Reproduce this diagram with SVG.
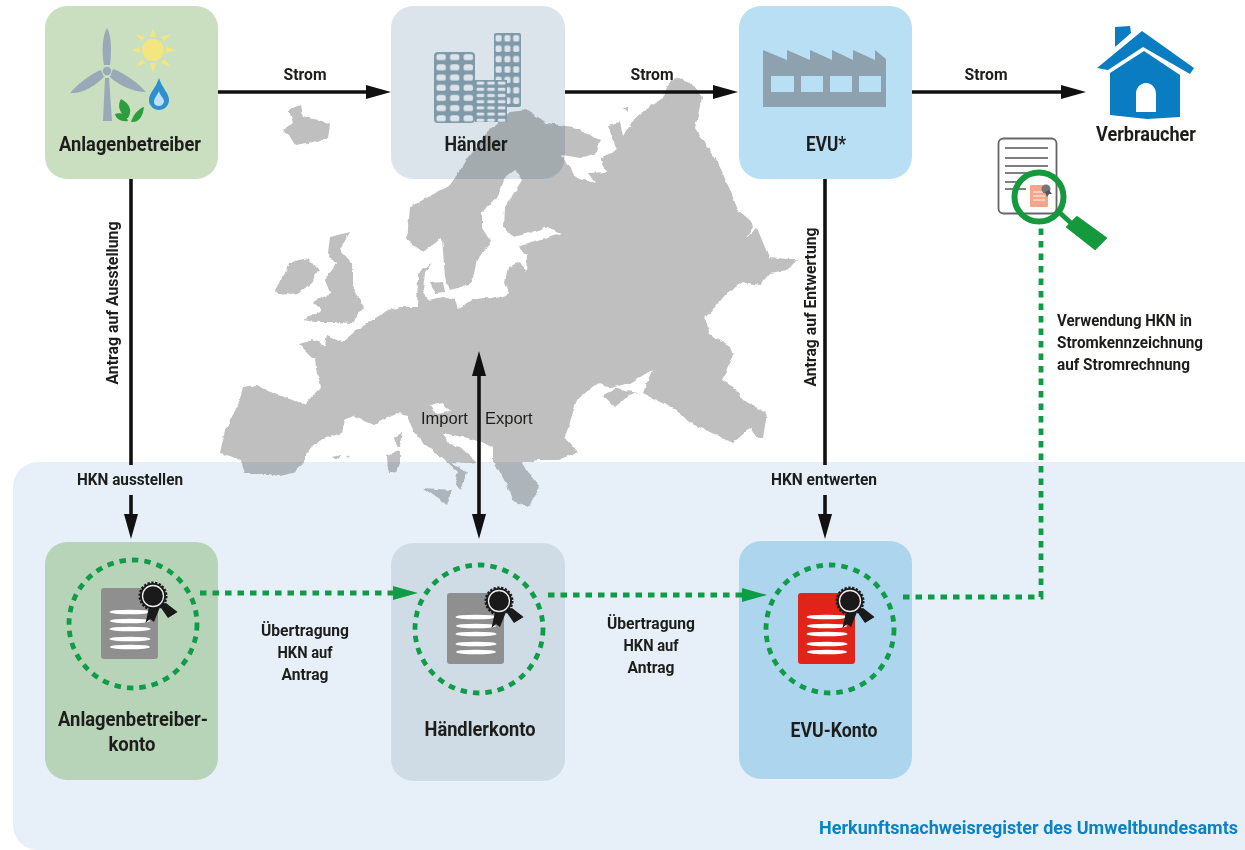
<svg xmlns="http://www.w3.org/2000/svg" width="1245" height="850" viewBox="0 0 1245 850">
<style>
.t{font-family:"Roboto","Liberation Sans",sans-serif;font-weight:700;fill:#1d1d1b;text-anchor:middle}
.s15{font-size:16px}.s18{font-size:20px}
.plain{font-family:"Liberation Sans",Arial,sans-serif;font-size:16.500px;fill:#1d1d1b}
.arrow{stroke:#111;stroke-width:3.600;fill:none}
.dots{stroke:#0f9c46;stroke-width:4.800;stroke-dasharray:6.500 6;fill:none}
.map{fill:#bfbfbf}
</style>
<defs>
<filter id="rough" x="-5%" y="-5%" width="110%" height="110%"><feTurbulence type="fractalNoise" baseFrequency="0.14" numOctaves="2" seed="4"/><feDisplacementMap in="SourceGraphic" scale="4" xChannelSelector="R" yChannelSelector="G"/><feGaussianBlur stdDeviation="0.400"/></filter>
<marker id="ah" markerUnits="userSpaceOnUse" markerWidth="26" markerHeight="16" refX="0" refY="8" orient="auto-start-reverse"><path d="M0,1L25,8L0,15Z" fill="#111"/></marker>
<marker id="gh" markerUnits="userSpaceOnUse" markerWidth="26" markerHeight="16" refX="0" refY="8" orient="auto"><path d="M0,1L25,8L0,15Z" fill="#0f9c46"/></marker>
<pattern id="winA" patternUnits="userSpaceOnUse" x="434" y="52" width="13.600" height="10.200"><rect x="2.400" y="2.200" width="9.400" height="6" rx="2.500" fill="#dae4ea"/></pattern>
<pattern id="winB" patternUnits="userSpaceOnUse" x="494" y="33" width="8.800" height="10.400"><rect x="1.600" y="2.200" width="6" height="6.200" rx="1.500" fill="#dae4ea"/></pattern>
<pattern id="winC" patternUnits="userSpaceOnUse" x="475" y="80" width="10.600" height="6.200"><rect x="1.600" y="1.500" width="7.600" height="3.200" rx="1.200" fill="#dae4ea"/></pattern>
<g id="cert">
<rect x="-32" y="-36" width="57" height="71" rx="3" fill="currentColor"/>
<g fill="#fff"><ellipse cx="-3" cy="-12" rx="20.500" ry="2.300"/><ellipse cx="-3" cy="-3" rx="20" ry="2.300"/><ellipse cx="-3" cy="5" rx="20.500" ry="2.300"/><ellipse cx="-3" cy="15" rx="20.500" ry="2.300"/><ellipse cx="-3" cy="23" rx="20" ry="2.300"/></g>
<path d="M16,-17L12.500,-1L17,-5L21,-2L27,-17ZM33,-21L44.600,-12L35,-6L26,-19Z" fill="#1a1a1a"/>
<circle cx="20" cy="-28" r="13" fill="#1a1a1a" stroke="#1a1a1a" stroke-width="3" stroke-dasharray="2.200 1.500"/>
<circle cx="20" cy="-28" r="10.500" fill="#1a1a1a" stroke="#eee" stroke-width="1.300"/>
</g>
</defs>
<rect width="1245" height="850" fill="#fff"/>

<g id="map" class="map" filter="url(#rough)">
<path fill-rule="evenodd" d="M220,453L225,430L238,405L243,387L257,385L277,395L305,404L315,393L321,387L317,373L315,360L299,344L313,340L325,345L327,335L342,342L357,330L388,310L400,307L417,307L418,273L433,262L425,272L423,290L428,300L443,297L455,300L458,310L472,300L488,297L497,298L510,293L505,283L508,267L520,262L526,272L527,255L518,247L528,243L547,237L562,233L547,227L530,233L513,237L504,227L505,207L522,180L515,170L505,178L497,198L482,212L482,228L491,242L477,260L472,283L450,290L445,277L442,238L423,252L407,240L410,207L450,185L467,160L487,132L510,112L527,110L547,123L572,127L600,140L597,153L580,158L562,155L577,178L595,183L588,173L607,172L600,158L617,150L608,125L620,122L623,137L633,120L647,108L663,98L667,87L675,77L690,82L702,97L695,128L720,167L730,190L738,210L752,222L753,227L746,238L757,228L769,257L797,260L787,270L770,273L760,285L743,282L727,293L715,307L705,318L710,335L730,347L733,355L722,380L733,387L743,400L767,413L763,438L757,438L750,428L733,443L712,433L690,423L677,410L643,393L652,370L630,383L610,388L597,383L577,400L565,437L578,452L558,460L537,460L530,462L522,462L530,475L540,487L528,507L512,500L507,485L503,478L495,463L493,463L493,448L482,442L467,438L443,433L450,445L460,447L477,462L467,463L450,462L467,473L460,490L455,483L458,472L443,458L427,447L413,430L407,415L398,413L373,425L353,416L345,420L342,433L320,440L305,453L305,462L293,473L280,476L267,474L245,474L242,463L233,457ZM430,405L443,402L450,412L436,414Z"/>
<path d="M283,130L293,123L289,110L301,105L303,117L319,120L330,125L328,138L313,142L295,145L289,135Z"/>
<path d="M275,290L285,273L289,263L307,258L319,270L311,283L299,293L279,295Z"/>
<path d="M303,320L322,310L313,302L330,293L325,280L336,263L328,253L330,237L350,232L340,250L352,263L352,287L364,307L352,323L334,322L315,322Z"/>
<path d="M394,437L402,433L400,445L396,447Z"/>
<path d="M387,455L400,451L400,463L397,472L388,473Z"/>
<path d="M423,488L452,490L447,505L437,498Z"/>
<path d="M603,395L617,388L637,393L627,397L615,407Z"/>
<path d="M332,457L340,455L339,460L335,459ZM346,455L350,456L348,458Z"/>
<path d="M622,107L628,107L628,113Z"/>
<path d="M430,283L443,282L445,292L435,293Z"/>
</g>

<path id="register" d="M1245,462H38a25,25 0 0 0 -25,25V825a25,25 0 0 0 25,25H1245Z" fill="#e7f0f8" style="mix-blend-mode:multiply"/>

<g id="anlagenbetreiber">
<rect x="45" y="6" width="173" height="173" rx="22" fill="#c9dfc0"/>
<g fill="#9aa9b8">
<path d="M103,121L105,78H109L112,121Z"/>
<path d="M104,65C101,50 103,34 107,28C111,34 112,50 110,65Z"/>
<path d="M113,69C125,73 139,84 146,92C132,92 117,84 110,77Z"/>
<path d="M101,70C90,74 77,85 70,93C84,94 97,84 104,77Z"/>
<circle cx="107" cy="71" r="4.200"/>
</g>
<g fill="#f3e67e"><circle cx="153" cy="50" r="11"/>
<path d="M150,37L153,28L156,37ZM150,63L153,73L156,63ZM140,47L131,50L140,53ZM166,47L176,50L166,53ZM142,41L136,34L145,37ZM164,41L171,34L161,37ZM142,59L136,67L145,63ZM164,59L171,67L161,63Z"/></g>
<path d="M159,78C156,88 149,93 149,100C149,106 154,110 159,110C164,110 169,106 169,100C169,93 162,88 159,78Z" fill="#2b8fd0"/>
<path d="M159,91C157,96 154,98 154,102C154,105 157,106 159,106C161,106 164,104 164,101C164,98 160,96 159,91Z" fill="#bfe0f2"/>
<g fill="#2e9e3a"><path d="M125,118C118,110 118,104 121,99C129,103 133,110 128,118Z"/><path d="M128,121C121,122 116,119 115,114C120,112 126,114 128,121Z"/><path d="M131,122C134,112 141,108 144,107C143,116 139,123 131,122Z"/></g>
<text class="t s18" x="130" y="151" textLength="142" lengthAdjust="spacingAndGlyphs">Anlagenbetreiber</text>
</g>

<g id="haendler">
<rect x="391" y="6" width="174" height="173" rx="22" fill="#dae4ea" style="mix-blend-mode:multiply"/>
<rect x="434" y="52" width="41" height="71" rx="4" fill="#7f99a8"/><rect x="434" y="52" width="41" height="71" rx="4" fill="url(#winA)"/>
<rect x="494" y="33" width="27" height="74" rx="2" fill="#7f99a8"/><rect x="494" y="33" width="27" height="74" rx="2" fill="url(#winB)"/>
<rect x="475" y="80" width="32" height="42" fill="#7f99a8"/><rect x="475" y="80" width="32" height="42" fill="url(#winC)"/>
<text class="t s18" x="476" y="151" textLength="63" lengthAdjust="spacingAndGlyphs">Händler</text>
</g>

<g id="evu">
<rect x="739" y="6" width="173" height="173" rx="22" fill="#b8dff4"/>
<path d="M763,50L787,60V50L810,60V50L832,60V50L853,60V50L875,60V50L886,59V107H763Z" fill="#8ea1ae"/>
<g fill="#b8dff4"><rect x="771" y="76" width="23" height="16"/><rect x="801" y="76" width="22" height="16"/><rect x="830" y="76" width="22" height="16"/><rect x="859" y="76" width="22" height="16"/></g>
<text class="t s18" x="826" y="151" textLength="40" lengthAdjust="spacingAndGlyphs">EVU*</text>
</g>

<g id="verbraucher" fill="#0a7cc1">
<path d="M1115,27L1130,26L1131,33L1115,47Z"/>
<path d="M1142,31L1194,68L1190,74L1143,47L1108,70L1097,68Z"/>
<path fill-rule="evenodd" d="M1110,73L1144,51L1180,75V117L1147,119L1110,115ZM1136,112H1156V94C1156,88 1152,83 1146,83C1140,83 1136,88 1136,94Z"/>
<text class="t s18" style="fill:#1d1d1b" x="1146" y="141" textLength="100" lengthAdjust="spacingAndGlyphs">Verbraucher</text>
</g>

<g id="rechnung">
<rect x="998.500" y="138.500" width="58" height="75" rx="5" fill="#fff" stroke="#666" stroke-width="1.800"/>
<path d="M1005,148H1048M1005,158H1048M1005,166H1048M1005,173H1030M1005,182H1018M1005,189H1026" stroke="#555" stroke-width="1.600" fill="none"/>
<rect x="1030" y="185" width="18" height="22" rx="1" fill="#f4a58a"/>
<path d="M1033,192H1045M1033,196H1045M1033,200H1045" stroke="#fbd9cc" stroke-width="1.400"/>
<circle cx="1046" cy="189" r="4.500" fill="#777"/>
<path d="M1045,192L1047,197L1049,194L1052,194L1049,190Z" fill="#555"/>
<circle cx="1039" cy="197" r="24.500" fill="none" stroke="#14993c" stroke-width="6"/>
<path d="M1060,213L1072,224" stroke="#14993c" stroke-width="5"/>
<path d="M1067,227L1077,217L1106,238L1095,249Z" fill="#14993c" stroke="#14993c" stroke-linejoin="round" stroke-width="2"/>
</g>

<g id="anlagenbetreiberkonto" style="color:#8f8f8f">
<rect x="45" y="542" width="173" height="238" rx="22" fill="#b8d4b8"/>
<circle class="dots" cx="133" cy="624" r="64"/>
<use href="#cert" x="133" y="624"/>
<text class="t s18" x="133" y="726" textLength="150" lengthAdjust="spacingAndGlyphs">Anlagenbetreiber-</text>
<text class="t s18" x="132" y="751" textLength="47" lengthAdjust="spacingAndGlyphs">konto</text>
</g>

<g id="haendlerkonto" style="color:#8f8f8f">
<rect x="391" y="543" width="174" height="238" rx="22" fill="#cfdce6"/>
<circle class="dots" cx="479" cy="629" r="64"/>
<use href="#cert" x="479" y="629"/>
<text class="t s18" x="480" y="736" textLength="111" lengthAdjust="spacingAndGlyphs">Händlerkonto</text>
</g>

<g id="evukonto" style="color:#e2231a">
<rect x="739" y="541" width="173" height="238" rx="22" fill="#aed5ee"/>
<circle class="dots" cx="830" cy="629" r="64"/>
<use href="#cert" x="830" y="629"/>
<text class="t s18" x="834" y="737" textLength="87" lengthAdjust="spacingAndGlyphs">EVU-Konto</text>
</g>

<g id="connectors">
<path class="arrow" d="M218,92H366" marker-end="url(#ah)"/>
<path class="arrow" d="M565,92H713" marker-end="url(#ah)"/>
<path class="arrow" d="M912,92H1061" marker-end="url(#ah)"/>
<path class="arrow" d="M131,179V465"/>
<path class="arrow" d="M131,495V514" marker-end="url(#ah)"/>
<path class="arrow" d="M825,179V465"/>
<path class="arrow" d="M825,495V514" marker-end="url(#ah)"/>
<path class="arrow" d="M479,376V514" marker-start="url(#ah)" marker-end="url(#ah)"/>
<path class="dots" d="M200,593H393" marker-end="url(#gh)"/>
<path class="dots" d="M548,595H742" marker-end="url(#gh)"/>
<path class="dots" d="M903,597H1041V225"/>
</g>

<g id="labels">
<text class="t s15" x="305" y="80" textLength="43" lengthAdjust="spacingAndGlyphs">Strom</text>
<text class="t s15" x="652" y="80" textLength="43" lengthAdjust="spacingAndGlyphs">Strom</text>
<text class="t s15" x="986" y="80" textLength="43" lengthAdjust="spacingAndGlyphs">Strom</text>
<text class="t s15" transform="translate(118,303) rotate(-90)" textLength="163" lengthAdjust="spacingAndGlyphs">Antrag auf Ausstellung</text>
<text class="t s15" transform="translate(816,307) rotate(-90)" textLength="159" lengthAdjust="spacingAndGlyphs">Antrag auf Entwertung</text>
<text class="t s15" x="130" y="485" textLength="106" lengthAdjust="spacingAndGlyphs">HKN ausstellen</text>
<text class="t s15" x="824" y="485" textLength="106" lengthAdjust="spacingAndGlyphs">HKN entwerten</text>
<text class="plain" x="421" y="424">Import</text>
<text class="plain" x="485" y="424">Export</text>
<text class="t s15" x="305" y="636" textLength="88" lengthAdjust="spacingAndGlyphs">Übertragung</text>
<text class="t s15" x="305" y="658" textLength="55" lengthAdjust="spacingAndGlyphs">HKN auf</text>
<text class="t s15" x="305" y="680" textLength="47" lengthAdjust="spacingAndGlyphs">Antrag</text>
<text class="t s15" x="651" y="629" textLength="88" lengthAdjust="spacingAndGlyphs">Übertragung</text>
<text class="t s15" x="651" y="651" textLength="55" lengthAdjust="spacingAndGlyphs">HKN auf</text>
<text class="t s15" x="651" y="673" textLength="47" lengthAdjust="spacingAndGlyphs">Antrag</text>
<text class="t s15" style="text-anchor:start" x="1057" y="326" textLength="135" lengthAdjust="spacingAndGlyphs">Verwendung HKN in</text>
<text class="t s15" style="text-anchor:start" x="1057" y="348" textLength="146" lengthAdjust="spacingAndGlyphs">Stromkennzeichnung</text>
<text class="t s15" style="text-anchor:start" x="1057" y="370" textLength="133" lengthAdjust="spacingAndGlyphs">auf Stromrechnung</text>
<text class="t" style="text-anchor:start;fill:#0a82c4;font-size:18px" x="819" y="834" textLength="419" lengthAdjust="spacingAndGlyphs">Herkunftsnachweisregister des Umweltbundesamts</text>
</g>
</svg>
